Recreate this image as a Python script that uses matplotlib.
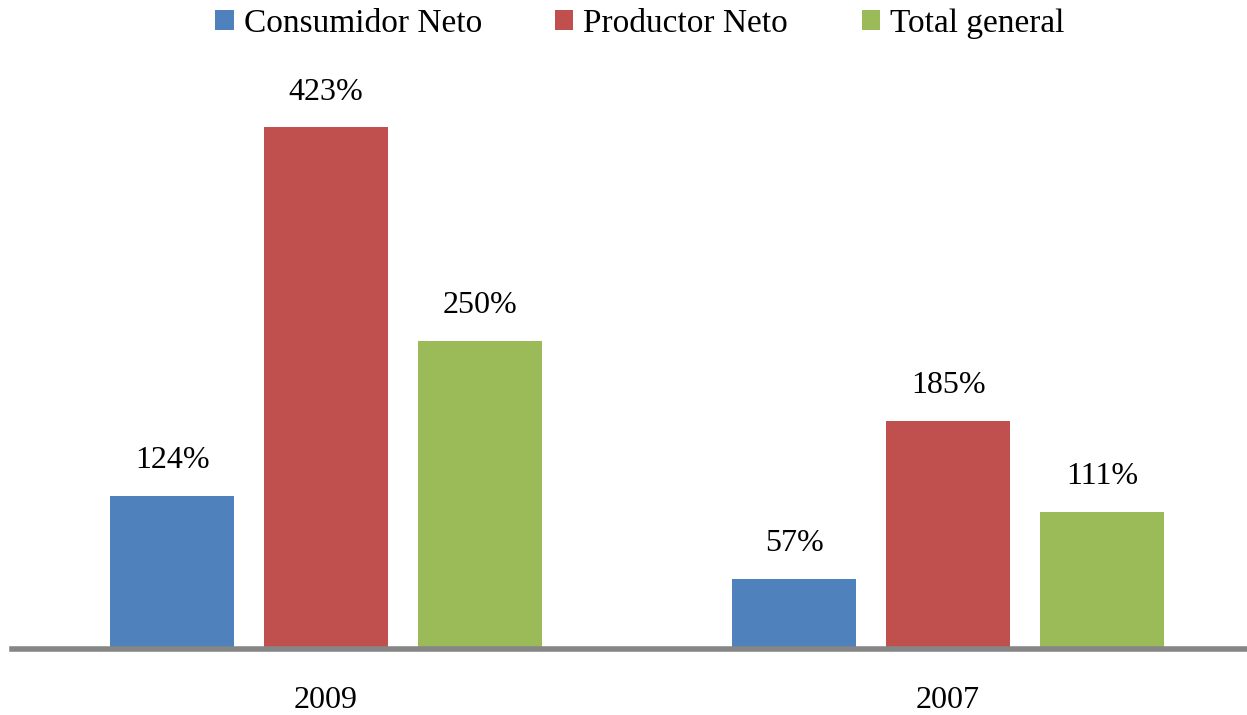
import numpy as np
import matplotlib.pyplot as plt

years = ["2009", "2007"]
series = ["Consumidor Neto", "Productor Neto", "Total general"]
consumidor = [124, 57]
productor = [423, 185]
total = [250, 111]
colors = ["#4F81BD", "#C0504D", "#9BBB59"]

plt.rcParams['font.family'] = ['Liberation Serif', 'DejaVu Serif']

fig = plt.figure(figsize=(12.47, 7.15), dpi=100)
W, H = 1247, 715
# axes: x from 12px, 622px per category; y baseline at 649px
ax = fig.add_axes([12 / W, (H - 649) / H, 1244 / W, 550 / H])

x = np.arange(len(years))
width = 0.2
step = 0.2476
for i, (name, vals) in enumerate(zip(series, [consumidor, productor, total])):
    bars = ax.bar(x + (i - 1) * step, vals, width, color=colors[i], label=name, zorder=2)
    for b, v in zip(bars, vals):
        ax.annotate(f"{v}%", (b.get_x() + b.get_width() / 2, v),
                    xytext=(0, 15), textcoords="offset points",
                    ha="center", va="bottom", fontsize=23)

ax.set_xlim(-0.505, 1.495)
ax.set_ylim(0, 446)
ax.set_yticks([])
ax.set_xticks(x)
ax.set_xticklabels(years, fontsize=23)
ax.tick_params(axis="x", length=0, pad=27)
for s in ["top", "right", "left"]:
    ax.spines[s].set_visible(False)
ax.spines["bottom"].set_color("#868686")
ax.spines["bottom"].set_linewidth(4)
ax.spines["bottom"].set_zorder(3)

fig.legend(loc="upper center", bbox_to_anchor=(0.513, 1.03), ncol=3, frameon=False,
           fontsize=24, handlelength=0.55, handleheight=0.55, handletextpad=0.3,
           columnspacing=2.2)

fig.savefig("out.png", dpi=100)
